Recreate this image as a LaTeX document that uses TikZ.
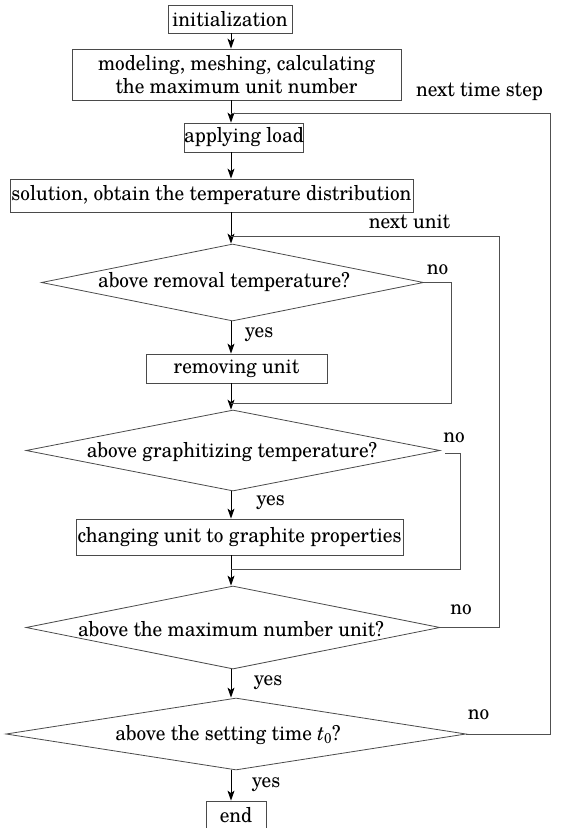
\documentclass[tikz,border=0pt]{standalone}
\usepackage{fontspec}
\setmainfont{TeX Gyre Schola}[FakeStretch=0.94]
\usetikzlibrary{shapes.geometric,arrows.meta}
\definecolor{boxc}{HTML}{4A4A4A}
\definecolor{linec}{HTML}{505050}
\tikzset{
  box/.style={draw=boxc, line width=0.8pt, inner sep=0pt, align=center},
  dia/.style={diamond, draw=boxc, line width=0.8pt, inner sep=0pt},
  arr/.style={draw=black, line width=0.9pt, -{Stealth[length=10pt,width=7pt,inset=2.5pt]}},
  loopline/.style={draw=linec, line width=0.8pt},
  lbl/.style={inner sep=0pt}
}
\begin{document}
\begin{tikzpicture}[x=1pt,y=-1pt,font=\fontsize{20.5}{23}\selectfont]
\useasboundingbox (0,0) rectangle (577,828);
\clip (0,0) rectangle (577,828);
\fill[white] (0,0) rectangle (577,828);
\coordinate (sp) at (231,0);
% boxes
\node[box, minimum width=124, minimum height=28] (init) at (230,19) {initialization};
\node[box, minimum width=329, minimum height=51] (model) at (236.5,74.5) {modeling, meshing, calculating\\the maximum unit number};
\node[box, minimum width=114, minimum height=29] (load) at (244,137.5) {applying load};
\node[box, minimum width=403, minimum height=33] (sol) at (211.5,195.5) {solution, obtain the temperature distribution};
\node[dia, minimum width=382, minimum height=77] (d1) at (232.5,282.5) {};
\node[lbl] (d1t) at (224,282) {above removal temperature?};
\node[box, minimum width=181, minimum height=29] (rem) at (236.5,368.5) {removing unit};
\node[dia, minimum width=414, minimum height=81] (d2) at (233,450.5) {};
\node[lbl] (d2t) at (232,452) {above graphitizing temperature?};
\node[box, minimum width=327, minimum height=36] (chg) at (239.5,537) {changing unit to graphite properties};
\node[dia, minimum width=414, minimum height=83] (d3) at (233,627.5) {};
\node[lbl] (d3t) at (231,629) {above the maximum number unit?};
\node[dia, minimum width=460, minimum height=72] (d4) at (236,734) {};
\node[lbl] (d4t) at (228,735) {above the setting time \textit{t}\textsubscript{0}?};
\node[box, minimum width=60, minimum height=40] (end) at (236,821) {};
\node[lbl] (endt) at (236,815) {end};
% main arrows
\draw[arr] (init.south -| sp) -- (model.north -| sp);
\draw[arr] (model.south -| sp) -- (load.north -| sp);
\draw[arr] (load.south -| sp) -- (sol.north -| sp);
\draw[arr] (sol.south -| sp) -- (d1.north -| sp);
\draw[arr] (d1.south -| sp) -- (rem.north -| sp);
\draw[arr] (rem.south -| sp) -- (d2.north -| sp);
\draw[arr] (d2.south -| sp) -- (chg.north -| sp);
\draw[arr] (chg.south -| sp) -- (d3.north -| sp);
\draw[arr] (d3.south -| sp) -- (d4.north -| sp);
\draw[arr] (d4.south -| sp) -- (end.north -| sp);
% loops
\coordinate (j1) at (231,113);
\coordinate (c4) at (550,113);
\coordinate (j2) at (231,236);
\coordinate (c3) at (499,236);
\coordinate (j3) at (231,403);
\coordinate (c1) at (451.5,403);
\coordinate (j4) at (231,569);
\coordinate (c2) at (460,569);
\draw[loopline] (d4.east) -| (c4) -- (j1);
\draw[loopline] (d3.east) -| (c3) -- (j2);
\draw[loopline] (d1.east) -| (c1) -- (j3);
\draw[loopline] ([shift={(5,3)}]d2.east) -| (c2) -- (j4);
% labels
\node[lbl] (nts) at (479.5,92) {next time step};
\node[lbl] (nu) at (409.5,222) {next unit};
\node[lbl] (no1) at (437.5,270) {no};
\node[lbl] (no2) at (454,438) {no};
\node[lbl] (no3) at (461,610) {no};
\node[lbl] (no4) at (478.5,715) {no};
\node[lbl] (y1) at (259,335) {yes};
\node[lbl] (y2) at (270.5,503) {yes};
\node[lbl] (y3) at (268,683) {yes};
\node[lbl] (y4) at (266,785) {yes};
\end{tikzpicture}
\end{document}
